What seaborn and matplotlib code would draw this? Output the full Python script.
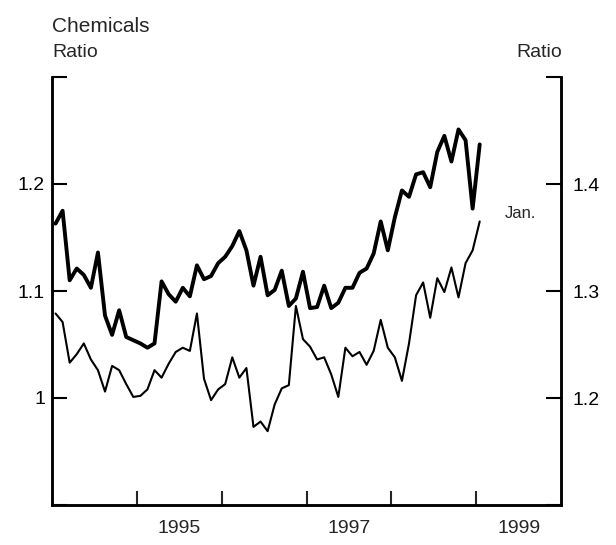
import matplotlib
matplotlib.use("Agg")
import matplotlib.pyplot as plt
import seaborn as sns
import pandas as pd
import numpy as np

# monthly, Jan 1994 - Jan 1999
months = pd.date_range("1994-01-01", "1999-01-01", freq="MS")

# thick line, left scale
ratio_left = [
    1.163, 1.175, 1.110, 1.121, 1.115, 1.103, 1.136, 1.077, 1.059, 1.082, 1.057, 1.054,
    1.051, 1.047, 1.051, 1.109, 1.097, 1.090, 1.103, 1.095, 1.124, 1.111, 1.114, 1.126,
    1.132, 1.142, 1.156, 1.138, 1.105, 1.132, 1.096, 1.101, 1.119, 1.086, 1.093, 1.118,
    1.084, 1.085, 1.105, 1.084, 1.089, 1.103, 1.103, 1.117, 1.121, 1.135, 1.165, 1.138,
    1.169, 1.194, 1.188, 1.209, 1.211, 1.197, 1.230, 1.245, 1.221, 1.251, 1.241, 1.177,
    1.237,
]

# thin line, right scale
ratio_right = [
    1.279, 1.271, 1.233, 1.241, 1.251, 1.236, 1.226, 1.206, 1.230, 1.226, 1.213, 1.201,
    1.202, 1.208, 1.226, 1.219, 1.232, 1.243, 1.247, 1.244, 1.279, 1.218, 1.198, 1.208,
    1.213, 1.238, 1.219, 1.228, 1.173, 1.178, 1.169, 1.194, 1.209, 1.212, 1.286, 1.255,
    1.248, 1.236, 1.238, 1.222, 1.201, 1.247, 1.239, 1.243, 1.231, 1.244, 1.273, 1.247,
    1.238, 1.216, 1.251, 1.296, 1.308, 1.275, 1.312, 1.299, 1.322, 1.294, 1.326, 1.338,
    1.365,
]

left_ticks = [0.9, 1.0, 1.1, 1.2, 1.3]
left_labels = ["", "1", "1.1", "1.2", ""]
right_ticks = [1.1, 1.2, 1.3, 1.4, 1.5]
right_labels = ["", "1.2", "1.3", "1.4", ""]
year_ticks = [1995, 1996, 1997, 1998, 1999]
year_labels = ["1995", "1997", "1999"]

df = pd.DataFrame({
    "t": months.year + (months.month - 0.5) / 12,
    "left": ratio_left,
    "right": ratio_right,
})

sns.set_style("ticks")
plt.rcParams["font.family"] = ["Liberation Sans", "DejaVu Sans"]

fig = plt.figure(figsize=(6.16, 5.45), dpi=100)
ax = fig.add_axes([52 / 616, 40 / 545, 509 / 616, 428 / 545])
ax2 = ax.twinx()

sns.lineplot(data=df, x="t", y="left", ax=ax, color="black", linewidth=2.8)
sns.lineplot(data=df, x="t", y="right", ax=ax2, color="black", linewidth=1.5)

ax.set_xlim(1994, 2000)
ax.set_ylim(0.9, 1.3)
ax2.set_ylim(1.1, 1.5)

for a in (ax, ax2):
    a.set_xlabel("")
    a.set_ylabel("")
    a.spines["top"].set_visible(False)
    for s in ("left", "right", "bottom"):
        a.spines[s].set_linewidth(1.8)
        a.spines[s].set_color("black")

ax.set_yticks(left_ticks)
ax.set_yticklabels(left_labels)
ax2.set_yticks(right_ticks)
ax2.set_yticklabels(right_labels)

ax.set_xticks(year_ticks)
ax.set_xticklabels([])
ax.set_xticks([1995.5, 1997.5, 1999.5], minor=True)
ax.set_xticklabels(year_labels, minor=True)

ax.tick_params(axis="y", direction="in", length=11, width=1.5, pad=5, labelsize=14, colors="black")
ax2.tick_params(axis="y", direction="in", length=11, width=1.5, pad=8, labelsize=14, colors="black")
ax.tick_params(axis="x", which="major", direction="in", length=10, width=1.5)
ax.tick_params(axis="x", which="minor", length=0, pad=11, labelsize=14)

ax.text(1999.34, 1.172, "Jan.", fontsize=12, va="center", ha="left")

fig.text(52 / 616, 1 - 17 / 545, "Chemicals", fontsize=15, ha="left", va="top")
fig.text(52 / 616, 1 - 44 / 545, "Ratio", fontsize=14, ha="left", va="top")
fig.text(562 / 616, 1 - 44 / 545, "Ratio", fontsize=14, ha="right", va="top")

fig.savefig("out.png", dpi=100, facecolor="white")
plt.close(fig)
